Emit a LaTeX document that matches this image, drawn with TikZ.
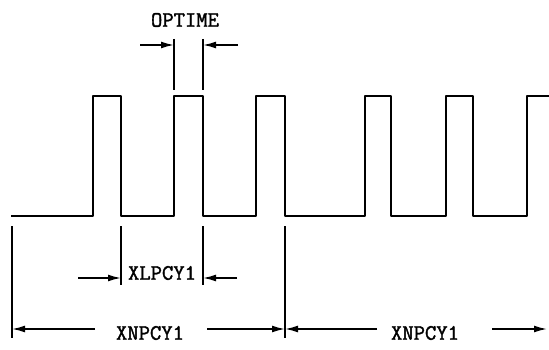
\documentclass[tikz,border=0pt]{standalone}
\usepackage{fontspec}
\newfontfamily\lblfont[FakeBold=1.6]{Latin Modern Mono}
\usetikzlibrary{arrows.meta}
\begin{document}
\begin{tikzpicture}[x=1pt,y=-1pt,
  wave/.style={line width=1.8pt,line join=round},
  ext/.style={line width=1.6pt},
  dim/.style={line width=1.6pt,-{Latex[length=13pt,width=7pt]}},
  lbl/.style={font=\lblfont\fontsize{22}{22}\selectfont,inner sep=1pt}]
\useasboundingbox (0,0) rectangle (549,350);
% waveform
\draw[wave] (11,216) -- (93,216) -- (93,96) -- (121,96) -- (121,216)
  -- (174,216) -- (174,96) -- (203,96) -- (203,216)
  -- (256,216) -- (256,96) -- (285,96) -- (285,216)
  -- (365,216) -- (365,96) -- (391,96) -- (391,216)
  -- (446,216) -- (446,96) -- (473,96) -- (473,216)
  -- (527,216) -- (527,96) -- (549,96);
% OPTIME
\node[lbl] (op) at (185,20) {OPTIME};
\coordinate (o1t) at (174,39); \coordinate (o1b) at (174,90);
\coordinate (o2t) at (203,39); \coordinate (o2b) at (203,90);
\draw[ext] (o1t) -- (o1b);
\draw[ext] (o2t) -- (o2b);
\coordinate (oa1) at (140,45); \coordinate (oa1e) at (174,45);
\coordinate (oa2) at (238,45); \coordinate (oa2e) at (203,45);
\draw[dim] (oa1) -- (oa1e);
\draw[dim] (oa2) -- (oa2e);
% extension lines below
\coordinate (e0t) at (12,226); \coordinate (e0b) at (12,338);
\coordinate (e1t) at (121,226); \coordinate (e1b) at (121,285);
\coordinate (e2t) at (203,226); \coordinate (e2b) at (203,285);
\coordinate (e3t) at (285,226); \coordinate (e3b) at (285,338);
\foreach \a/\b in {e0t/e0b,e1t/e1b,e2t/e2b,e3t/e3b} \draw[ext] (\a) -- (\b);
% XLPCY1
\node[lbl] (xl) at (162,273) {XLPCY1};
\coordinate (xa1) at (78,278); \coordinate (xa1e) at (121,278);
\coordinate (xa2) at (237,278); \coordinate (xa2e) at (203,278);
\draw[dim] (xa1) -- (xa1e);
\draw[dim] (xa2) -- (xa2e);
% XNPCY1 (1)
\node[lbl] (xn1) at (150,333) {XNPCY1};
\coordinate (n1a) at (95,329); \coordinate (n1ae) at (12,329);
\coordinate (n1b) at (207,329); \coordinate (n1be) at (285,329);
\draw[dim] (n1a) -- (n1ae);
\draw[dim] (n1b) -- (n1be);
% XNPCY1 (2)
\node[lbl] (xn2) at (425,333) {XNPCY1};
\coordinate (n2a) at (377,329); \coordinate (n2ae) at (285,329);
\coordinate (n2b) at (492,329); \coordinate (n2be) at (547,329);
\draw[dim] (n2a) -- (n2ae);
\draw[dim] (n2b) -- (n2be);
\end{tikzpicture}
\end{document}
